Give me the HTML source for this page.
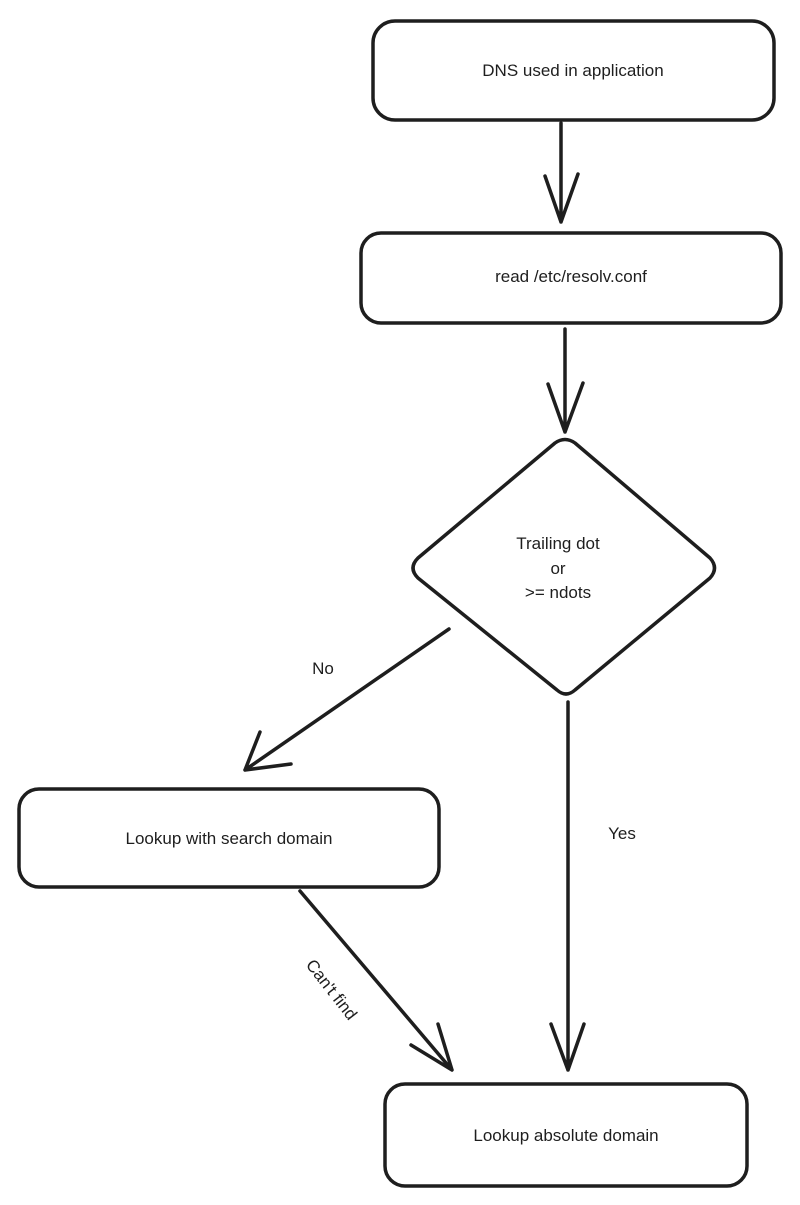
<!DOCTYPE html>
<html><head><meta charset="utf-8"><style>
html,body{margin:0;padding:0;background:#fff;}
svg{display:block;}
text{font-family:"Liberation Sans",sans-serif;font-size:17px;fill:#1e1e1e;}
</style></head><body>
<svg width="800" height="1205" viewBox="0 0 800 1205" xmlns="http://www.w3.org/2000/svg">
<g fill="none" stroke="#1e1e1e" stroke-width="3.5" stroke-linecap="round" stroke-linejoin="round">
<rect x="373" y="21" width="401" height="99" rx="22"/>
<rect x="361" y="233" width="420" height="90" rx="20"/>
<path d="M555,443 Q565,436 575,443 L710,558 Q719,568 710,578 L575,690 Q566,698 557,690 L418,578 Q408,568 418,558 Z"/>
<rect x="19" y="789" width="420" height="98" rx="20"/>
<rect x="385" y="1084" width="362" height="102" rx="20"/>
<path d="M561,123 L561,222 M545,176 L561,222 L578,174"/>
<path d="M565,329 L565,432 M548,384 L565,432 L583,383"/>
<path d="M449,629 L245,770 M260,732 L245,770 L291,764"/>
<path d="M568,702 L568,1070 M551,1024 L568,1070 L584,1024"/>
<path d="M300,891 L452,1070 M411,1045 L452,1070 L438,1024"/>
</g>
<text x="573" y="76" text-anchor="middle">DNS used in application</text>
<text x="571" y="282" text-anchor="middle">read /etc/resolv.conf</text>
<text x="558" y="549" text-anchor="middle">Trailing dot</text>
<text x="558" y="574" text-anchor="middle">or</text>
<text x="558" y="598" text-anchor="middle">&gt;= ndots</text>
<text x="323" y="674" text-anchor="middle">No</text>
<text x="622" y="839" text-anchor="middle">Yes</text>
<text x="229" y="844" text-anchor="middle">Lookup with search domain</text>
<text x="566" y="1141" text-anchor="middle">Lookup absolute domain</text>
<text x="331" y="995" text-anchor="middle" transform="rotate(52 331 990)">Can't find</text>
</svg>
</body></html>
